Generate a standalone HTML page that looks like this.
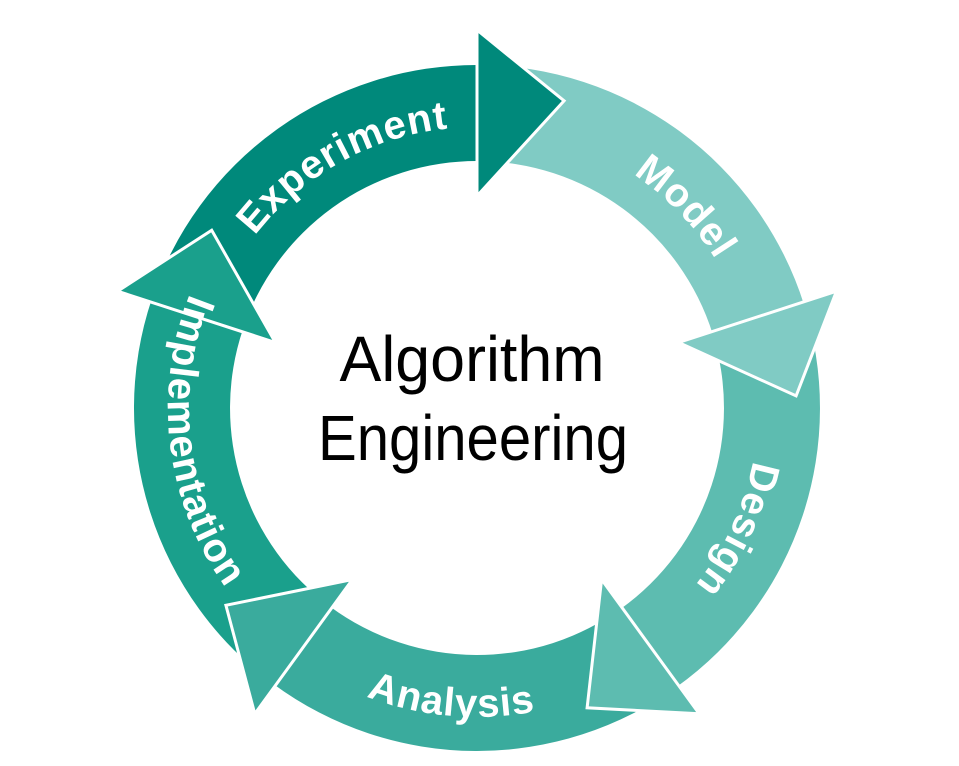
<!DOCTYPE html>
<html><head><meta charset="utf-8"><style>
html,body{margin:0;padding:0;background:#fff;width:959px;height:766px;overflow:hidden}
svg{display:block}
</style></head><body>
<svg id="s" width="959" height="766" viewBox="0 0 959 766" xmlns="http://www.w3.org/2000/svg">
<g id="bands"></g><g id="heads"></g><g id="labels"></g>
<text x="472" y="381" font-family="Liberation Sans, sans-serif" font-size="64" text-anchor="middle" textLength="265" lengthAdjust="spacingAndGlyphs" fill="#000">Algorithm</text>
<text x="473" y="460" font-family="Liberation Sans, sans-serif" font-size="64" text-anchor="middle" textLength="310" lengthAdjust="spacingAndGlyphs" fill="#000">Engineering</text>
</svg>
<script>
(function(){
var NS="http://www.w3.org/2000/svg";
var cx=477,cy=408,R=295,hw=48;
function P(r,a){a=a*Math.PI/180;return [cx+r*Math.sin(a),cy-r*Math.cos(a)];}
function f(p){return p[0].toFixed(1)+","+p[1].toFixed(1);}
var T=[15,87,159,231,303];
var cols=["#00897b","#80cbc4","#5dbcb0","#3aab9d","#1aa08c"];
var names=["Experiment","Model","Design","Analysis","Implementation"];
var centers=[-29,46,115,185,263];
var cw=[true,true,true,false,false];
var bands=document.getElementById("bands"),heads=document.getElementById("heads"),labels=document.getElementById("labels");
var defs=document.createElementNS(NS,"defs");document.getElementById("s").appendChild(defs);
for(var i=0;i<5;i++){
  var b=T[i]-15, bp=T[(i+4)%5]-15; if(bp>b) bp-=360;
  var a0=bp, a1=b+0.5, ro=R+hw, ri=R-hw;
  var large=(a1-a0)>180?1:0;
  var d="M"+f(P(ro,a0))+" A"+ro+","+ro+" 0 "+large+" 1 "+f(P(ro,a1))+" L"+f(P(ri,a1))+" A"+ri+","+ri+" 0 "+large+" 0 "+f(P(ri,a0))+" Z";
  var pa=document.createElementNS(NS,"path");pa.setAttribute("d",d);pa.setAttribute("fill",cols[i]);bands.appendChild(pa);
  var m=P(R,b), o=P(R+83,b), n=P(R-83,b);
  var da=(b-8)*Math.PI/180;
  var tip=[m[0]+88*Math.cos(da), m[1]+88*Math.sin(da)];
  var h=document.createElementNS(NS,"polygon");
  h.setAttribute("points",f(o)+" "+f(tip)+" "+f(n));
  h.setAttribute("fill",cols[i]);h.setAttribute("stroke","#fff");h.setAttribute("stroke-width","3");h.setAttribute("stroke-linejoin","miter");
  heads.appendChild(h);
  var c=centers[i], r, pd;
  if(cw[i]){r=R-14;pd="M"+f(P(r,c-60))+" A"+r+","+r+" 0 0 1 "+f(P(r,c+60));}
  else{r=R+14;pd="M"+f(P(r,c+60))+" A"+r+","+r+" 0 0 0 "+f(P(r,c-60));}
  var tp=document.createElementNS(NS,"path");tp.setAttribute("id","tp"+i);tp.setAttribute("d",pd);defs.appendChild(tp);
  var t=document.createElementNS(NS,"text");
  t.setAttribute("font-family","Liberation Sans, sans-serif");t.setAttribute("font-size","40");t.setAttribute("font-weight","bold");
  t.setAttribute("fill","#fff");t.setAttribute("letter-spacing","1");t.setAttribute("text-anchor","middle");
  var tpe=document.createElementNS(NS,"textPath");tpe.setAttribute("href","#tp"+i);tpe.setAttributeNS("http://www.w3.org/1999/xlink","xlink:href","#tp"+i);
  tpe.setAttribute("startOffset","50%");tpe.textContent=names[i];t.appendChild(tpe);labels.appendChild(t);
}
})();
</script>
</body></html>
